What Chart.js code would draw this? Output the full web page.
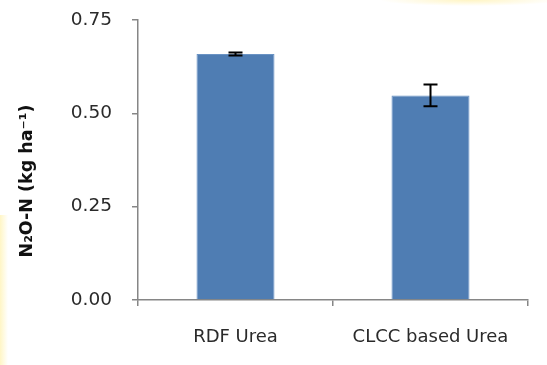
<!DOCTYPE html>
<html>
<head>
<meta charset="utf-8">
<script src="https://cdn.jsdelivr.net/npm/chart.js@4"></script>
<style>
  html, body { margin: 0; padding: 0; }
  body {
    width: 547px; height: 365px; overflow: hidden;
    background:
      radial-gradient(ellipse 90px 6px at 470px 0px, rgba(255,240,170,0.7), rgba(255,255,255,0) 100%),
      linear-gradient(to right, rgba(255,238,150,0.55), rgba(255,255,255,0) 8px) 0 215px / 8px 150px no-repeat,
      #fff;
  }
  canvas { display: block; }
</style>
</head>
<body>
<canvas id="chart" width="547" height="365"></canvas>
<script>
const categories = ["RDF Urea", "CLCC based Urea"];
const n2oValues = [0.659, 0.548];
const n2oErrors = [0.004, 0.029];
const yTicks = [0, 0.25, 0.5, 0.75];

const AXIS = "#868686";
const FONT = "'DejaVu Sans', Verdana, sans-serif";

// error bars drawn from the y scale
const errorBars = {
  id: "errorBars",
  afterDatasetsDraw(chart) {
    const c = chart.ctx;
    const y = chart.scales.y;
    const meta = chart.getDatasetMeta(0);
    c.save();
    c.strokeStyle = "#000";
    c.lineWidth = 2;
    meta.data.forEach((bar, i) => {
      const hi = y.getPixelForValue(n2oValues[i] + n2oErrors[i]);
      const lo = y.getPixelForValue(n2oValues[i] - n2oErrors[i]);
      c.beginPath();
      c.moveTo(bar.x, hi); c.lineTo(bar.x, lo);
      c.moveTo(bar.x - 7, hi); c.lineTo(bar.x + 7, hi);
      c.moveTo(bar.x - 7, lo); c.lineTo(bar.x + 7, lo);
      c.stroke();
    });
    c.restore();
  }
};

// rotated y title (sits a bit below the axis centre in the original)
const yTitle = {
  id: "yTitle",
  afterDraw(chart) {
    const c = chart.ctx;
    c.save();
    c.translate(27, 181);
    c.rotate(-Math.PI / 2);
    c.font = "bold 17.5px " + FONT;
    c.fillStyle = "#111";
    c.textAlign = "center";
    c.textBaseline = "middle";
    c.fillText("N\u2082O-N (kg ha\u207B\u00B9)", 0, 0);
    c.restore();
  }
};

new Chart(document.getElementById("chart"), {
  type: "bar",
  data: {
    labels: categories,
    datasets: [{
      data: n2oValues,
      backgroundColor: "#4f7db3",
      borderColor: "#6a93c4",
      borderWidth: 1,
      categoryPercentage: 1,
      barPercentage: 0.4
    }]
  },
  options: {
    responsive: false,
    devicePixelRatio: 1,
    animation: false,
    layout: { padding: { top: 20, right: 19, left: 0, bottom: 0 } },
    plugins: { legend: { display: false }, tooltip: { enabled: false } },
    scales: {
      x: {
        grid: { drawOnChartArea: false, tickLength: 6, color: AXIS, lineWidth: 1.5 },
        border: { color: AXIS, width: 1.5 },
        ticks: { color: "#2a2a2a", font: { family: FONT, size: 18 }, padding: 21 },
        afterFit(s) { s.height = 65; s.paddingLeft = 0; s.paddingRight = 0; }
      },
      y: {
        min: 0, max: 0.75,
        afterBuildTicks(s) { s.ticks = yTicks.map(v => ({ value: v })); },
        grid: { drawOnChartArea: false, tickLength: 6, color: AXIS, lineWidth: 1.5 },
        border: { color: AXIS, width: 1.5 },
        ticks: {
          color: "#2a2a2a", font: { family: FONT, size: 18.5 }, padding: 20,
          callback: v => v.toFixed(2)
        },
        afterFit(s) { s.width = 138; s.paddingTop = 0; s.paddingBottom = 0; }
      }
    }
  },
  plugins: [errorBars, yTitle]
});
</script>
</body>
</html>
